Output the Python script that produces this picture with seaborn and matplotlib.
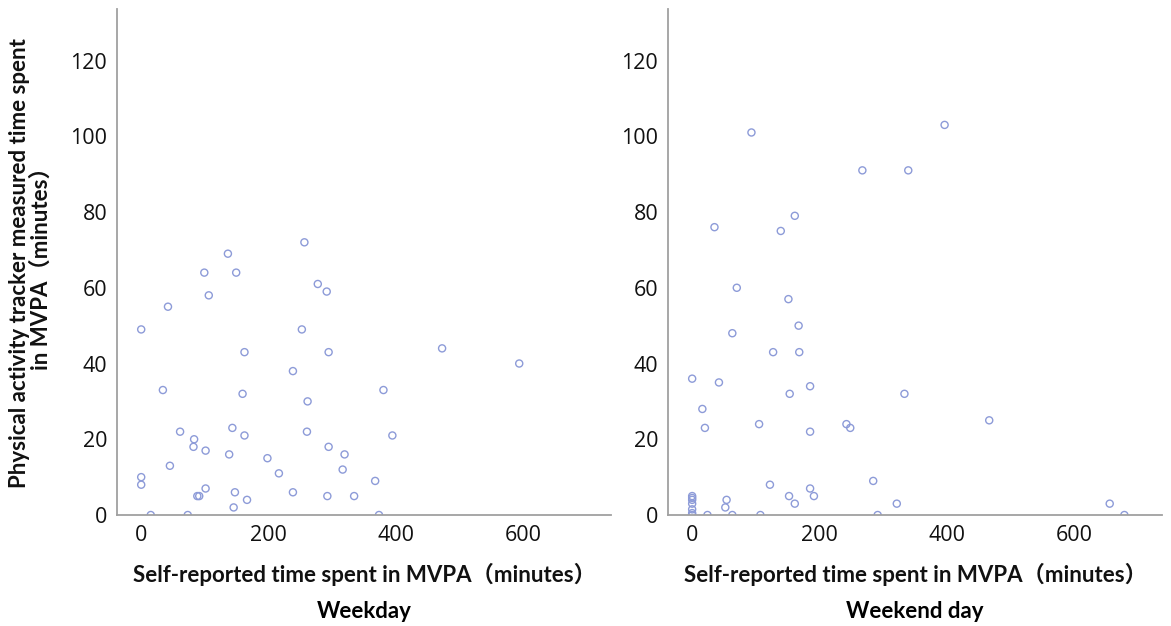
import pandas as pd
import matplotlib.pyplot as plt
import seaborn as sns

# Weekday: self-reported MVPA (x) vs tracker MVPA (y), minutes
weekday_self = [136, 99, 149, 106, 42, 277, 291, 0, 252, 162, 294, 238, 34, 159, 380, 261,
                61, 143, 260, 162, 394, 83, 82, 101, 294, 138, 319, 198, 45, 316, 216, 0,
                0, 367, 101, 88, 91, 147, 238, 292, 334, 166, 145, 15, 73, 373, 472, 593, 256]
weekday_tracker = [69, 64, 64, 58, 55, 61, 59, 49, 49, 43, 43, 38, 33, 32, 33, 30,
                   22, 23, 22, 21, 21, 20, 18, 17, 18, 16, 16, 15, 13, 12, 11, 10,
                   8, 9, 7, 5, 5, 6, 6, 5, 5, 4, 2, 0, 0, 0, 44, 40, 72]

# Weekend day
weekend_self = [35, 93, 139, 161, 267, 339, 396, 70, 151, 167, 63, 127, 168, 0, 42, 185,
                153, 333, 16, 20, 105, 242, 248, 185, 284, 122, 185, 152, 191, 161, 321, 54,
                52, 24, 63, 107, 291, 0, 0, 0, 0, 0, 0, 0, 466, 655, 678]
weekend_tracker = [76, 101, 75, 79, 91, 91, 103, 60, 57, 50, 48, 43, 43, 36, 35, 34,
                   32, 32, 28, 23, 24, 24, 23, 22, 9, 8, 7, 5, 5, 3, 3, 4,
                   2, 0, 0, 0, 0, 5, 4.5, 4, 3, 1.5, 0.5, 0, 25, 3, 0]

panels = ['Weekday', 'Weekend day']
x_ticks = [0, 200, 400, 600]
y_ticks = [0, 20, 40, 60, 80, 100, 120]

sns.set_style('white')
plt.rcParams['font.family'] = ['Open Sans', 'DejaVu Sans']
label_font = ['Lato', 'Noto Sans CJK SC', 'DejaVu Sans']

fig = plt.figure(figsize=(11.71, 6.26), dpi=100)
ax1 = fig.add_axes([0.0999, 0.1773, 0.4219, 0.8083])
ax2 = fig.add_axes([0.5704, 0.1773, 0.4219, 0.8083])

data = [(weekday_self, weekday_tracker), (weekend_self, weekend_tracker)]
point_color = '#8d9bd8'

for ax, (xs, ys), title in zip([ax1, ax2], data, panels):
    df = pd.DataFrame({'self': xs, 'tracker': ys})
    sns.scatterplot(data=df, x='self', y='tracker', ax=ax, marker='o', s=26,
                    facecolors='none', edgecolor=point_color, linewidth=1.0)
    ax.set_xlim(-38, 737)
    ax.set_ylim(0, 133.6)
    ax.set_xticks(x_ticks)
    ax.set_yticks(y_ticks)
    ax.tick_params(axis='both', length=0, labelsize=15.5, colors='#111111', pad=7)
    for side in ['top', 'right']:
        ax.spines[side].set_visible(False)
    for side in ['left', 'bottom']:
        ax.spines[side].set_color('#a0a0a0')
        ax.spines[side].set_linewidth(1.3)
    ax.set_xlabel('Self-reported time spent in MVPA（minutes）', fontsize=16,
                  fontweight='bold', family=label_font, labelpad=12, color='#111111')
    ax.set_ylabel('')
    ax.text(0.5, -0.19, title, transform=ax.transAxes, ha='center', va='center',
            fontsize=16, fontweight='bold', family=label_font, color='#000000')

fig.text(0.026, 0.58, 'Physical activity tracker measured time spent\nin MVPA（minutes）',
         rotation=90, ha='center', va='center', fontsize=16, fontweight='bold',
         family=label_font, color='#111111', linespacing=1.0)

fig.savefig('out.png', dpi=100)
